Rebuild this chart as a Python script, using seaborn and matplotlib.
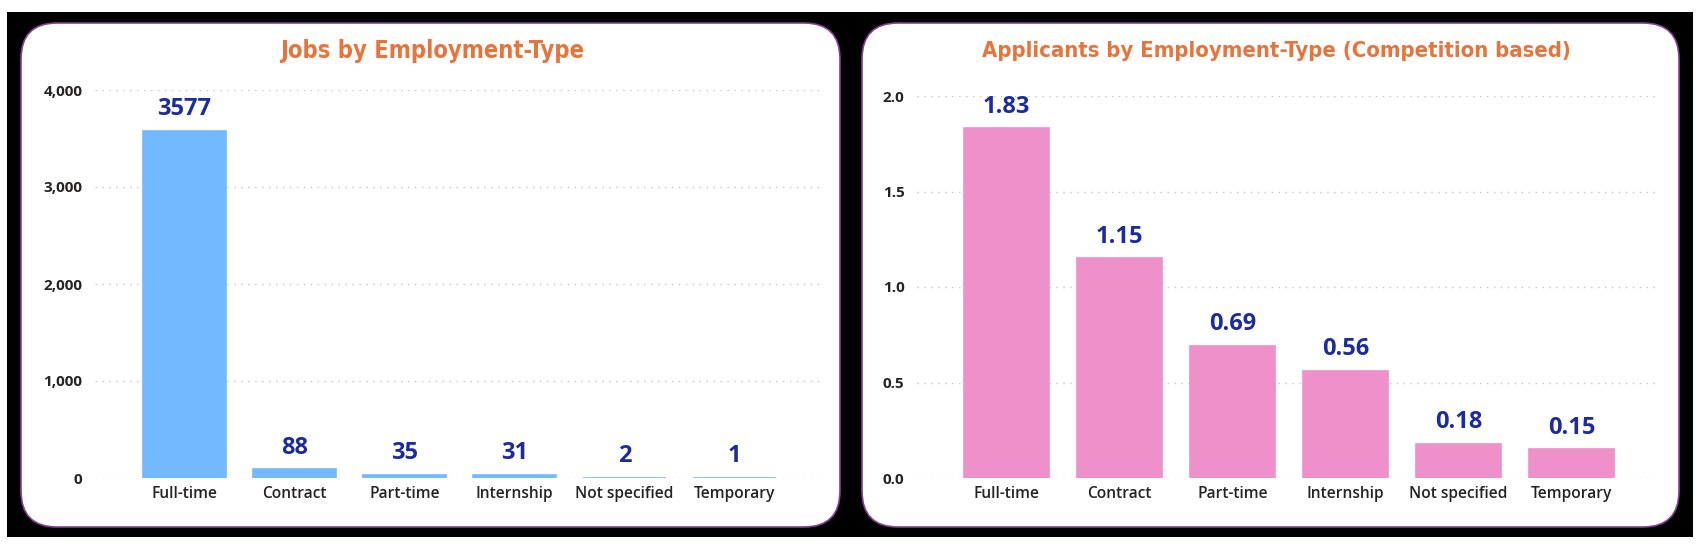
import matplotlib
matplotlib.use("Agg")
import matplotlib.pyplot as plt
from matplotlib.patches import FancyBboxPatch, Rectangle
from matplotlib.ticker import FuncFormatter
import seaborn as sns

# data
categories = ["Full-time", "Contract", "Part-time", "Internship", "Not specified", "Temporary"]
jobs = [3577, 88, 35, 31, 2, 1]
applicants = [1.83, 1.15, 0.69, 0.56, 0.18, 0.15]
job_ticks = [0, 1000, 2000, 3000, 4000]
app_ticks = [0.0, 0.5, 1.0, 1.5, 2.0]

W, H = 1704, 549
sns.set_theme(style="white")
plt.rcParams["font.family"] = ["Open Sans", "DejaVu Sans"]

fig = plt.figure(figsize=(W / 100, H / 100), dpi=100)
fig.patch.set_facecolor("white")

# background: black frame + two rounded white cards (pixel coords)
bg = fig.add_axes([0, 0, 1, 1], zorder=0)
bg.set_xlim(0, W)
bg.set_ylim(H, 0)
bg.axis("off")
bg.add_patch(Rectangle((7, 12), 1686, 525, facecolor="black", edgecolor="none"))
for x0, x1 in [(21, 840), (862, 1679)]:
    bg.add_patch(FancyBboxPatch((x0, 23), x1 - x0, 504,
                                boxstyle="round,pad=0,rounding_size=36",
                                facecolor="white", edgecolor="#8a3d99", linewidth=1.2))

title_color = "#e8743b"
value_color = "#1c2c9e"
text_color = "#252423"


def draw_panel(rect, values, color, ticks, xlim, fmt, labfmt, title, title_x, title_size):
    ax = fig.add_axes(rect, zorder=2)
    ax.patch.set_alpha(0)
    # thin same-colour edge keeps the tiny bars visible, like the original
    sns.barplot(x=categories, y=values, color=color, saturation=1, width=0.76,
                edgecolor=color, linewidth=1.2, ax=ax)
    ax.set_xlim(*xlim)
    ax.set_ylim(ticks[0], ticks[-1])
    ax.set_yticks(ticks)
    ax.yaxis.set_major_formatter(FuncFormatter(fmt))
    for s in ax.spines.values():
        s.set_visible(False)
    ax.grid(axis="y", color="#c6c6c6", linestyle=(0, (1, 4)), linewidth=1)
    ax.set_axisbelow(True)
    ax.tick_params(axis="x", length=0, pad=6, labelsize=11.2, labelcolor=text_color)
    ax.tick_params(axis="y", length=0, pad=9, labelsize=11, labelcolor=text_color)
    for lab in ax.get_xticklabels():
        lab.set_fontweight("semibold")
    for lab in ax.get_yticklabels():
        lab.set_fontweight("bold")
    ax.set_xlabel("")
    ax.set_ylabel("")
    ax.bar_label(ax.containers[0], labels=[labfmt(v) for v in values], padding=7,
                 fontsize=17, fontweight="bold", color=value_color)
    fig.text(title_x / W, 1 - 51 / H, title, ha="center", va="center",
             fontsize=title_size, fontweight="bold", color=title_color,
             family="DejaVu Sans", fontstretch="condensed")
    return ax


draw_panel([95 / W, 71 / H, 728 / W, 388 / H], jobs, "#72b9ff", job_ticks,
           (-0.814, 5.805), lambda v, p: f"{v:,.0f}", lambda v: f"{v}",
           "Jobs by Employment-Type", 432, 17)
draw_panel([917 / W, 71 / H, 741 / W, 382 / H], applicants, "#ee90ca", app_ticks,
           (-0.792, 5.765), lambda v, p: f"{v:.1f}", lambda v: f"{v:.2f}",
           "Applicants by Employment-Type (Competition based)", 1276, 15.8)

fig.savefig("out.png", dpi=100)
